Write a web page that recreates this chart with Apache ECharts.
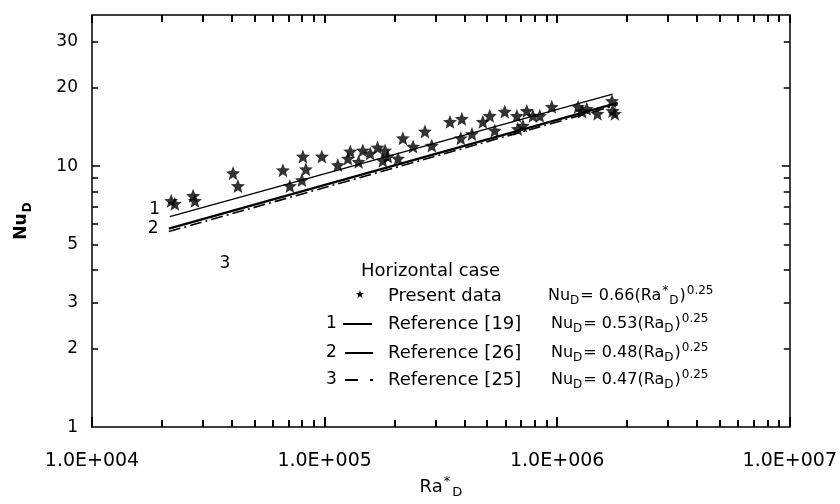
<!DOCTYPE html>
<html><head><meta charset="utf-8">
<script src="https://cdn.jsdelivr.net/npm/echarts@6/dist/echarts.min.js"></script>
<style>html,body{margin:0;background:#fff}#c{width:840px;height:504px}</style>
</head><body><div id="c"></div>
<script>
// ---- data ----
const presentRa = [2.19e4,2.27e4,2.72e4,2.77e4,4.04e4,4.24e4,6.62e4,7.09e4,7.99e4,8.07e4,8.31e4,9.73e4,
  1.14e5,1.26e5,1.29e5,1.40e5,1.46e5,1.57e5,1.69e5,1.82e5,1.78e5,1.87e5,2.07e5,2.17e5,2.40e5,2.70e5,2.89e5,
  3.46e5,3.89e5,3.85e5,4.30e5,4.79e5,5.13e5,5.39e5,5.95e5,6.71e5,6.77e5,7.40e5,7.12e5,7.86e5,8.42e5,9.48e5,
  1.23e6,1.28e6,1.34e6,1.49e6,1.72e6,1.73e6,1.77e6];
const presentNu = [7.37,7.18,7.70,7.37,9.41,8.40,9.66,8.40,8.85,10.9,9.74,10.9,
  10.1,10.7,11.4,10.4,11.5,11.2,11.8,11.5,10.5,10.9,10.7,12.8,11.9,13.6,12.0,
  14.8,15.2,12.8,13.3,14.8,15.6,13.7,16.2,15.6,13.9,16.3,14.3,15.6,15.6,16.9,
  16.9,16.2,16.6,15.9,17.8,16.3,15.9];
const ref19Ra = [2.16e4, 1.73e6], ref19Nu = [6.41, 18.9];
const ref26Ra = [2.14e4, 1.82e6], ref26Nu = [5.77, 17.5];
const ref25Ra = [2.14e4, 1.82e6], ref25Nu = [5.62, 17.2];
const lineTags = ['1','2','3'];
const lineTagRa = [1.86e4, 1.83e4, 3.73e4];
const lineTagNu = [6.81, 5.77, 4.25];
const xTickLabels = ['1.0E+004','1.0E+005','1.0E+006','1.0E+007'];
const xMajorTicks = [1e4,1e5,1e6,1e7];
const xMinorTicks = [2e4,3e4,4e4,5e4,6e4,7e4,8e4,9e4,2e5,3e5,4e5,5e5,6e5,7e5,8e5,9e5,2e6,3e6,4e6,5e6,6e6,7e6,8e6,9e6];
const yTickLabels = [1,2,3,5,10,20,30];
const yMajorTicks = [10];
const yMinorTicks = [2,3,4,5,6,7,8,9,20,30];
const legendTitle = 'Horizontal case';
const legendNames = ['Present data','Reference [19]','Reference [26]','Reference [25]'];
const legendNums = ['','1','2','3'];
const legendCoefs = ['0.66','0.53','0.48','0.47'];
const legendVar = ['Ra*','Ra','Ra','Ra'];
const legendExp = '0.25';

const INK = '#000';
const FONT = 'DejaVu Sans';
const STAR = 'path://M50 0L62.93 32.2L97.55 34.55L70.92 56.8L79.39 90.45L50 72L20.61 90.45L29.08 56.8L2.45 34.55L37.07 32.2Z';
const zip = (a, b) => a.map((v, i) => [v, b[i]]);

const chart = echarts.init(document.getElementById('c'));
const AL = (show) => ({show: show, onZero: false, lineStyle: {color: INK, width: 1.5}});
const T = (len, vals, w) => ({show: true, inside: true, length: len, customValues: vals, lineStyle: {color: INK, width: w || 1.5}});
const xBase = () => ({type: 'log', logBase: 10, min: 1e4, max: 1e7, splitLine: {show: false}});
const yBase = () => ({type: 'log', logBase: 10, min: 1, max: 38, splitLine: {show: false}});

const xAxis = [
  Object.assign(xBase(), {position: 'bottom', axisLine: AL(true), axisTick: T(10, xMajorTicks, 2),
    axisLabel: {show: true, customValues: xMajorTicks, margin: 24, color: INK, fontFamily: FONT, fontSize: 19,
      formatter: v => xTickLabels[Math.round(Math.log10(v)) - 4]},
    name: '{a|Ra}{t|*}{s|D}', nameLocation: 'middle', nameGap: 46,
    nameTextStyle: {rich: {
      a: {fontFamily: FONT, fontSize: 18, color: INK, lineHeight: 24, verticalAlign: 'middle'},
      t: {fontFamily: FONT, fontSize: 13, color: INK, lineHeight: 24, verticalAlign: 'top', padding: [0, 2, 0, 1]},
      s: {fontFamily: FONT, fontSize: 13, color: INK, lineHeight: 24, verticalAlign: 'bottom', padding: [8, 0, 0, 0]}
    }}}),
  Object.assign(xBase(), {position: 'bottom', axisLine: AL(false), axisTick: T(7, xMinorTicks, 2), axisLabel: {show: false}}),
  Object.assign(xBase(), {position: 'top', axisLine: AL(true), axisTick: T(8, xMajorTicks, 2), axisLabel: {show: false}}),
  Object.assign(xBase(), {position: 'top', axisLine: AL(false), axisTick: T(7, xMinorTicks, 2), axisLabel: {show: false}})
];
const yAxis = [
  Object.assign(yBase(), {position: 'left', axisLine: AL(true), axisTick: T(8, yMajorTicks),
    axisLabel: {show: true, customValues: yTickLabels, margin: 14, color: INK, fontFamily: FONT, fontSize: 17},
    name: '{b|Nu}{s|D}', nameLocation: 'middle', nameGap: 58,
    nameTextStyle: {rich: {
      b: {fontFamily: FONT, fontSize: 17, fontWeight: 'bold', color: INK, lineHeight: 24, verticalAlign: 'middle'},
      s: {fontFamily: FONT, fontSize: 12, fontWeight: 'bold', color: INK, lineHeight: 24, verticalAlign: 'bottom', padding: [8, 0, 0, 1]}
    }}}),
  Object.assign(yBase(), {position: 'left', axisLine: AL(false), axisTick: T(6, yMinorTicks), axisLabel: {show: false}}),
  Object.assign(yBase(), {position: 'right', axisLine: AL(true), axisTick: T(8, yMajorTicks), axisLabel: {show: false}}),
  Object.assign(yBase(), {position: 'right', axisLine: AL(false), axisTick: T(6, yMinorTicks), axisLabel: {show: false}})
];

const tagLabel = () => ({show: true, color: INK, fontFamily: FONT, fontSize: 17, position: 'inside'});
const tagMark = (i) => ({symbol: 'circle', symbolSize: 1, itemStyle: {color: 'rgba(0,0,0,0)'}, label: tagLabel(),
  data: [{coord: [lineTagRa[i], lineTagNu[i]], label: {formatter: lineTags[i]}}]});
const series = [
  {type: 'line', name: 'Reference [26]', xAxisIndex: 0, yAxisIndex: 0, data: zip(ref26Ra, ref26Nu), showSymbol: false, symbol: 'none',
    lineStyle: {color: INK, width: 2.4}, z: 3, markPoint: tagMark(1)},
  {type: 'line', name: 'Reference [25]', xAxisIndex: 0, yAxisIndex: 0, data: zip(ref25Ra, ref25Nu), showSymbol: false, symbol: 'none',
    lineStyle: {color: INK, width: 1.6, type: [12, 4, 2, 4]}, z: 3, markPoint: tagMark(2)},
  {type: 'line', name: 'Reference [19]', xAxisIndex: 0, yAxisIndex: 0, data: zip(ref19Ra, ref19Nu), showSymbol: false, symbol: 'none',
    lineStyle: {color: INK, width: 1.5}, z: 3, markPoint: tagMark(0)},
  {type: 'scatter', name: 'Present data', xAxisIndex: 0, yAxisIndex: 0, data: zip(presentRa, presentNu), symbol: STAR, symbolSize: 14,
    itemStyle: {color: INK}, z: 4}
];

// ---- legend block (graphic) ----
const rowY = [296, 324, 353, 380];
const tx = (text, x, y, size, extra) => ({type: 'text', x: x, y: y, z: 10,
  style: Object.assign({text: text, fill: INK, fontFamily: FONT, fontSize: size, verticalAlign: 'middle'}, extra || {})});
const fRich = {
  n: {fontFamily: FONT, fontSize: 16, fill: INK, lineHeight: 22, verticalAlign: 'middle'},
  s: {fontFamily: FONT, fontSize: 12, fill: INK, lineHeight: 22, verticalAlign: 'bottom', padding: [6, 1, 0, 0]},
  t: {fontFamily: FONT, fontSize: 12, fill: INK, lineHeight: 22, verticalAlign: 'top', padding: [0, 1, 0, 1]},
  e: {fontFamily: FONT, fontSize: 12, fill: INK, lineHeight: 22, verticalAlign: 'top', padding: [0, 0, 6, 1]}
};
const graphic = [tx(legendTitle, 361, 271, 18)];
legendNames.forEach((nm, i) => {
  const y = rowY[i];
  graphic.push(tx(nm, 388, y, 18));
  if (legendNums[i]) graphic.push(tx(legendNums[i], 326, y, 17));
  const v = legendVar[i];
  const varTxt = v.endsWith('*') ? '{n|' + v.slice(0, -1) + '}{t|*}' : '{n|' + v + '}';
  graphic.push({type: 'text', x: i === 0 ? 548 : 551, y: y, z: 10,
    style: {text: '{n|Nu}{s|D}{n|= ' + legendCoefs[i] + '(}' + varTxt + '{s|D}{n|)}{e|' + legendExp + '}',
      rich: fRich, verticalAlign: 'middle'}});
});
graphic.push({type: 'text', x: 360, y: 295, z: 10, style: {text: '\u2605', fill: INK, fontFamily: FONT, fontSize: 11, align: 'center', verticalAlign: 'middle'}});
graphic.push({type: 'line', z: 10, shape: {x1: 343, y1: rowY[1], x2: 372, y2: rowY[1]}, style: {stroke: INK, lineWidth: 2}});
graphic.push({type: 'line', z: 10, shape: {x1: 345, y1: rowY[2], x2: 373, y2: rowY[2]}, style: {stroke: INK, lineWidth: 2}});
graphic.push({type: 'line', z: 10, shape: {x1: 345, y1: rowY[3], x2: 358, y2: rowY[3]}, style: {stroke: INK, lineWidth: 2}});
graphic.push({type: 'line', z: 10, shape: {x1: 370, y1: rowY[3], x2: 373, y2: rowY[3]}, style: {stroke: INK, lineWidth: 2}});

chart.setOption({
  animation: false,
  backgroundColor: '#fff',
  grid: {left: 92, right: 50, top: 15, bottom: 72, containLabel: false},
  xAxis: xAxis, yAxis: yAxis, series: series, graphic: graphic
});
</script></body></html>
